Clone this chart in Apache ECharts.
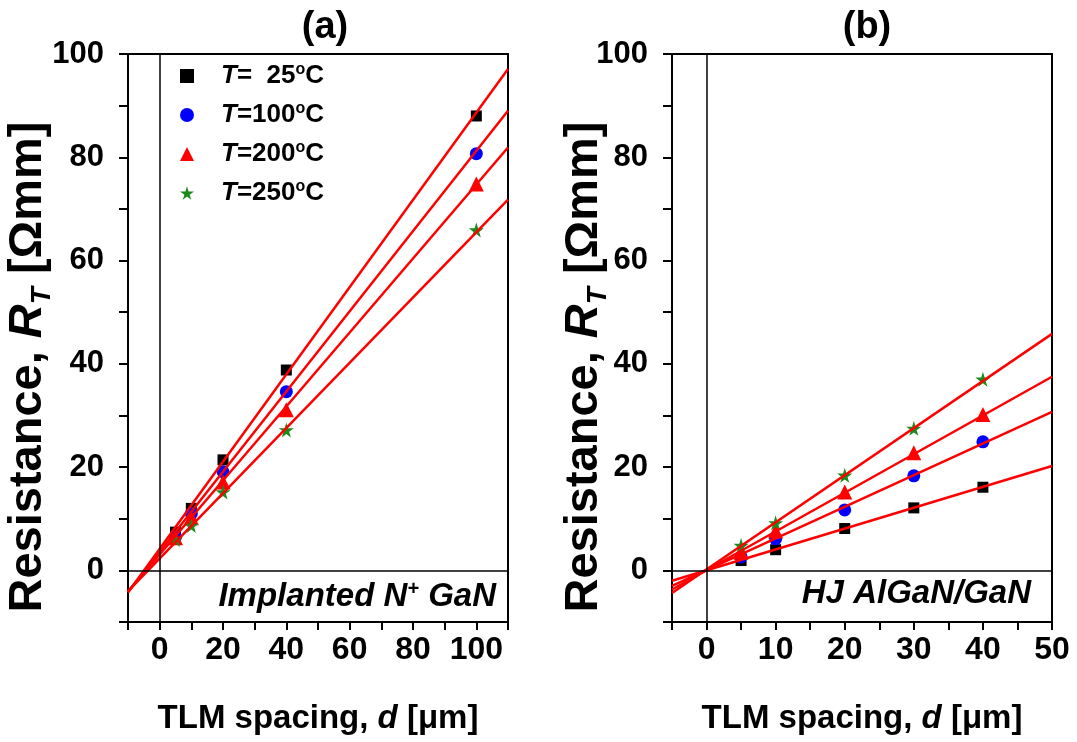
<!DOCTYPE html>
<html>
<head>
<meta charset="utf-8">
<script src="https://cdn.jsdelivr.net/npm/echarts@6/dist/echarts.min.js"></script>
<style>
html,body{margin:0;padding:0;background:#fff;}
#chart{width:1077px;height:742px;}
</style>
</head>
<body>
<div id="chart"></div>
<script>
// ---------- data ----------
const seriesNames = ['T=25°C', 'T=100°C', 'T=200°C', 'T=250°C'];
const legendLabels = ['=  25', '=100', '=200', '=250'];

// Panel (a): Implanted N+ GaN
const dA = [5, 10, 20, 40, 100];
const rA_25  = [7.4, 12.0, 21.4, 38.8, 88.0];
const rA_100 = [6.5, 11.0, 19.1, 34.6, 80.7];
const rA_200 = [6.3, 10.2, 17.1, 31.1, 74.8];
const rA_250 = [6.0, 8.7, 15.2, 27.2, 65.9];
// fit-line end points (x = -10 and x = 110)
const fitA_x = [-10, 110];
const fitA_25  = [-4.3, 97.1];
const fitA_100 = [-4.2, 89.0];
const fitA_200 = [-4.1, 81.9];
const fitA_250 = [-4.0, 71.8];

// Panel (b): HJ AlGaN/GaN
const dB = [5, 10, 20, 30, 40];
const rB_25  = [1.9, 4.0, 8.1, 12.1, 16.1];
const rB_100 = [2.6, 6.1, 11.7, 18.3, 24.9];
const rB_200 = [3.5, 7.6, 15.2, 22.8, 30.2];
const rB_250 = [4.8, 9.2, 18.4, 27.5, 37.0];
// fit-line end points (x = -5 and x = 50)
const fitB_x = [-5, 50];
const fitB_25  = [-2.0, 20.2];
const fitB_100 = [-3.0, 30.7];
const fitB_200 = [-3.7, 37.5];
const fitB_250 = [-4.4, 45.8];

const xTicksA = {min: -10, max: 110, step: 10, labelEvery: 20};
const xTicksB = {min: -5, max: 50, step: 5, labelEvery: 10};
const yTicks = {min: -10, max: 100, step: 10, labelEvery: 20};

// ---------- styling ----------
const FONT = "'Liberation Sans', Arial, Helvetica, sans-serif";
const colors = ['#000000', '#0000ff', '#ff0000', '#1a8a1a'];
const STAR = 'path://M50,0 L61,35 L98,35 L68,57 L79,91 L50,70 L21,91 L32,57 L2,35 L39,35 Z';
const symbols = ['rect', 'circle', 'triangle', STAR];
const symSizes = [11, 13, 15, 15];

const pairs = (xs, ys) => xs.map((x, i) => [x, ys[i]]);

const dataA = [rA_25, rA_100, rA_200, rA_250];
const fitsA = [fitA_25, fitA_100, fitA_200, fitA_250];
const dataB = [rB_25, rB_100, rB_200, rB_250];
const fitsB = [fitB_25, fitB_100, fitB_200, fitB_250];

function xAxisCfg(idx, t) {
  return {
    type: 'value', gridIndex: idx, min: t.min, max: t.max, interval: t.step,
    axisLine: {onZero: false, lineStyle: {color: '#000', width: 2}},
    axisTick: {inside: false, length: 8, lineStyle: {color: '#000', width: 2}},
    splitLine: {show: false},
    axisLabel: {
      margin: 12, color: '#000', fontFamily: FONT, fontWeight: 'bold', fontSize: 32,
      formatter: v => (v >= 0 && v % t.labelEvery === 0) ? String(v) : ''
    },
    name: '{n|TLM spacing, }{i|d}{n| [μm]}',
    nameLocation: 'middle', nameGap: 80, nameMoveOverlap: false,
    nameTextStyle: {
      rich: {
        n: {fontFamily: FONT, fontWeight: 'bold', fontSize: 33, color: '#000'},
        i: {fontFamily: FONT, fontWeight: 'bold', fontStyle: 'italic', fontSize: 33, color: '#000'}
      }
    }
  };
}
function yAxisCfg(idx, t, gap) {
  return {
    type: 'value', gridIndex: idx, min: t.min, max: t.max, interval: t.step,
    axisLine: {onZero: false, lineStyle: {color: '#000', width: 2}},
    axisTick: {inside: false, length: 9, lineStyle: {color: '#000', width: 2}},
    splitLine: {show: false},
    axisLabel: {
      margin: 24, color: '#000', fontFamily: FONT, fontWeight: 'bold', fontSize: 31,
      formatter: v => (v >= 0 && v % t.labelEvery === 0) ? String(v) : ''
    },
    name: '{n|Resistance, }{i|R}{sub|T}{n| [Ωmm]}',
    nameLocation: 'middle', nameGap: gap, nameRotate: 90, nameMoveOverlap: false,
    nameTextStyle: {
      padding: [0, 58, 0, 0],
      lineHeight: 56,
      rich: {
        n: {fontFamily: FONT, fontWeight: 'bold', fontSize: 47, color: '#000', lineHeight: 56},
        i: {fontFamily: FONT, fontWeight: 'bold', fontStyle: 'italic', fontSize: 47, color: '#000', lineHeight: 56},
        sub: {fontFamily: FONT, fontWeight: 'bold', fontStyle: 'italic', fontSize: 28, color: '#000', lineHeight: 56, verticalAlign: 'bottom', padding: [18, 0, 0, 0]}
      }
    }
  };
}

const series = [];
function addPanel(idx, xs, data, fitX, fits) {
  // zero reference lines
  series.push({
    type: 'line', xAxisIndex: idx, yAxisIndex: idx, data: [], silent: true,
    markLine: {
      silent: true, symbol: ['none', 'none'], label: {show: false},
      lineStyle: {color: '#000', width: 1.5, type: 'solid'},
      data: [{xAxis: 0}, {yAxis: 0}]
    }
  });
  data.forEach((ys, k) => {
    series.push({
      name: seriesNames[k], type: 'scatter', xAxisIndex: idx, yAxisIndex: idx,
      symbol: symbols[k], symbolSize: symSizes[k],
      itemStyle: {color: colors[k], opacity: 1},
      data: pairs(xs, ys), z: 3
    });
  });
  fits.forEach((ys, k) => {
    series.push({
      type: 'line', xAxisIndex: idx, yAxisIndex: idx, showSymbol: false, symbol: 'none',
      lineStyle: {color: '#ff0000', width: 2.5}, data: pairs(fitX, ys), z: 4, silent: true,
      clip: true
    });
  });
}
addPanel(0, dA, dataA, fitA_x, fitsA);
addPanel(1, dB, dataB, fitB_x, fitsB);

const legendRich = {
  i: {fontFamily: FONT, fontWeight: 'bold', fontStyle: 'italic', fontSize: 26, color: '#000', lineHeight: 28},
  n: {fontFamily: FONT, fontWeight: 'bold', fontSize: 26, color: '#000', lineHeight: 28},
  s: {fontFamily: FONT, fontWeight: 'bold', fontSize: 16, color: '#000', verticalAlign: 'top', lineHeight: 16}
};

const option = {
  animation: false,
  backgroundColor: '#fff',
  title: [
    {text: '(a)', left: 320, top: 4, textAlign: 'center',
     textStyle: {fontFamily: FONT, fontWeight: 'bold', fontSize: 38, color: '#000'}},
    {text: '(b)', left: 862, top: 4, textAlign: 'center',
     textStyle: {fontFamily: FONT, fontWeight: 'bold', fontSize: 38, color: '#000'}}
  ],
  grid: [
    {left: 128, top: 54, width: 380, height: 568, show: true, borderColor: '#000', borderWidth: 2,
     backgroundColor: 'transparent', containLabel: false, outerBoundsMode: 'none'},
    {left: 672, top: 54, width: 380, height: 568, show: true, borderColor: '#000', borderWidth: 2,
     backgroundColor: 'transparent', containLabel: false, outerBoundsMode: 'none'}
  ],
  xAxis: [xAxisCfg(0, xTicksA), xAxisCfg(1, xTicksB)],
  yAxis: [yAxisCfg(0, yTicks, 72), yAxisCfg(1, yTicks, 60)],
  legend: {
    orient: 'vertical', left: 175, top: 57,
    itemWidth: 14, itemHeight: 14, itemGap: 12,
    data: seriesNames,
    formatter: name => {
      const k = seriesNames.indexOf(name);
      return '{i|T}{n|' + legendLabels[k] + '}{s|o}{n|C}';
    },
    textStyle: {rich: legendRich, padding: [0, 0, 0, 22]},
    selectedMode: false
  },
  graphic: [
    {type: 'text', x: 496, y: 597, silent: true,
     style: {
       text: '{t|Implanted N}{s|+}{t| GaN}',
       align: 'right', verticalAlign: 'middle',
       rich: {
         t: {fontFamily: FONT, fontWeight: 'bold', fontStyle: 'italic', fontSize: 33, fill: '#000'},
         s: {fontFamily: FONT, fontWeight: 'bold', fontStyle: 'italic', fontSize: 20, fill: '#000', verticalAlign: 'top', padding: [0, 0, 16, 0]}
       }
     }},
    {type: 'text', x: 1031, y: 594, silent: true,
     style: {
       text: 'HJ AlGaN/GaN',
       align: 'right', verticalAlign: 'middle',
       font: 'italic bold 33px ' + FONT, fill: '#000'
     }}
  ],
  series: series
};

const chart = echarts.init(document.getElementById('chart'), null, {renderer: 'canvas'});
chart.setOption(option);
</script>
</body>
</html>
